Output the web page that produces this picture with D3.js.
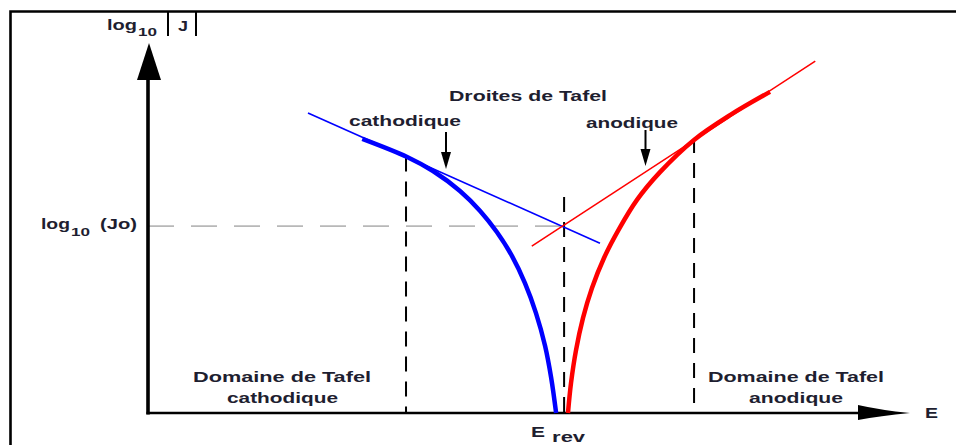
<!DOCTYPE html>
<html>
<head>
<meta charset="utf-8">
<script src="https://cdn.jsdelivr.net/npm/d3@7"></script>
<style>
  html, body { margin: 0; padding: 0; background: #fff; }
  svg { display: block; }
  text { font-family: "Liberation Sans", Arial, sans-serif; font-weight: bold; fill: #1e1e30; }
</style>
</head>
<body>
<svg id="chart" width="956" height="445"></svg>
<script>
// ---- data (arbitrary units: E on 0..100, log10|J| on 0..100) ----
const cathodicCurveE = [28.2, 34.1, 37.5, 41.05, 43.7, 45.9, 47.9, 49.6, 51.05, 52.25, 53.05, 53.7];
const cathodicCurveLogJ = [74.1, 69.2, 65.4, 60.0, 54.6, 48.9, 42.4, 35.1, 27.0, 18.1, 9.5, 0];
const anodicCurveE = [55.26, 55.66, 56.32, 57.24, 58.42, 60.0, 61.97, 64.34, 67.37, 71.84, 76.58, 81.84];
const anodicCurveLogJ = [0, 8.1, 17.0, 25.7, 33.8, 41.9, 49.7, 57.6, 65.1, 73.8, 80.5, 86.8];
const cathodicTafelE = [21.05, 59.47];
const cathodicTafelLogJ = [81.1, 45.9];
const anodicTafelE = [50.5, 87.8];
const anodicTafelLogJ = [45.1, 95.1];
const logJ0 = 50.5;
const Erev = 54.75;
const tafelLimitsE = [33.95, 54.75, 71.85];
const tafelLimitsTopLogJ = [69.3, 58.4, 74.3];
const categoriesLabels = ["Domaine de Tafel", "cathodique", "anodique", "Droites de Tafel"];

// ---- scales ----
const x = d3.scaleLinear().domain([0, 100]).range([148, 908]);
const y = d3.scaleLinear().domain([0, 100]).range([413, 43]);

const svg = d3.select("#chart");

// frame
svg.append("path")
  .attr("d", "M10.5,460 L10.5,11.5 L970,11.5")
  .attr("fill", "none").attr("stroke", "#000").attr("stroke-width", 2.6);

// gray dashed log J0 line
svg.append("line")
  .attr("x1", x(0)).attr("x2", x(Erev) - 4)
  .attr("y1", y(logJ0)).attr("y2", y(logJ0))
  .attr("stroke", "#b8b8b8").attr("stroke-width", 1.6)
  .attr("stroke-dasharray", "26,17");

// vertical dashed limits
svg.selectAll("line.lim").data(tafelLimitsE).join("line")
  .attr("class", "lim")
  .attr("x1", d => x(d)).attr("x2", d => x(d))
  .attr("y1", (d, i) => y(tafelLimitsTopLogJ[i])).attr("y2", y(0))
  .attr("stroke", "#000").attr("stroke-width", 2)
  .attr("stroke-dasharray", "15,10");

// axes (drawn as lines with arrows)
svg.append("line")
  .attr("x1", x(0)).attr("x2", x(0)).attr("y1", y(0) + 1.5).attr("y2", 78)
  .attr("stroke", "#000").attr("stroke-width", 3.6);
svg.append("path")
  .attr("d", `M${x(0) + 1},43 L${x(0) - 11},80 L${x(0) + 13},80 Z`)
  .attr("fill", "#000");
svg.append("line")
  .attr("x1", x(0) - 1.5).attr("x2", 862).attr("y1", y(0)).attr("y2", y(0))
  .attr("stroke", "#000").attr("stroke-width", 2.6);
svg.append("path")
  .attr("d", `M910,${y(0)} Q880,${y(0) - 3} 858,${y(0) - 8} L858,${y(0) + 7} Q880,${y(0) + 3} 910,${y(0)} Z`)
  .attr("fill", "#000");

// Tafel lines
const line = d3.line().x(d => x(d[0])).y(d => y(d[1]));
svg.append("path")
  .attr("d", line(d3.zip(cathodicTafelE, cathodicTafelLogJ)))
  .attr("stroke", "#0000ff").attr("stroke-width", 1.6).attr("fill", "none");
svg.append("path")
  .attr("d", line(d3.zip(anodicTafelE, anodicTafelLogJ)))
  .attr("stroke", "#ff0000").attr("stroke-width", 1.6).attr("fill", "none");

// curves
const curve = d3.line().x(d => x(d[0])).y(d => y(d[1])).curve(d3.curveCatmullRom.alpha(0.5));
svg.append("path")
  .attr("d", curve(d3.zip(cathodicCurveE, cathodicCurveLogJ)))
  .attr("stroke", "#0000ff").attr("stroke-width", 4.5).attr("fill", "none");
svg.append("path")
  .attr("d", curve(d3.zip(anodicCurveE, anodicCurveLogJ)))
  .attr("stroke", "#ff0000").attr("stroke-width", 4.5).attr("fill", "none");

// small arrows pointing to Tafel lines
function downArrow(cx, y1, y2) {
  svg.append("line").attr("x1", cx).attr("x2", cx).attr("y1", y1).attr("y2", y2 - 12)
    .attr("stroke", "#000").attr("stroke-width", 2);
  svg.append("path").attr("d", `M${cx - 5},${y2 - 17} L${cx + 5},${y2 - 17} L${cx},${y2} Z`).attr("fill", "#000");
}
downArrow(446, 132, 169);
downArrow(645.5, 130, 166);

// text helper
function txt(s, tx, ty, size, w) {
  const t = svg.append("text").attr("x", tx).attr("y", ty)
    .attr("font-size", size).text(s);
  if (w) t.attr("textLength", w).attr("lengthAdjust", "spacingAndGlyphs");
  return t;
}

// y axis title: log10 |J|
txt("log", 107, 30, 15, 30);
txt("10", 138, 35.5, 11, 19);
txt("J", 178, 31, 15, 10);
[168, 196].forEach(bx => svg.append("line")
  .attr("x1", bx).attr("x2", bx).attr("y1", 12).attr("y2", 36)
  .attr("stroke", "#000").attr("stroke-width", 2));

// log10 (Jo) label
const yJ0 = y(logJ0);
txt("log", 41, yJ0 + 3, 15, 29);
txt("10", 71, yJ0 + 10, 11, 19);
txt("(Jo)", 100, yJ0 + 3, 15, 37);

// annotations
txt(categoriesLabels[3], 449, 101, 15, 158);
txt(categoriesLabels[1], 349, 126, 15, 112);
txt(categoriesLabels[2], 586, 128, 15, 92);
txt(categoriesLabels[0], 193, 382, 15, 178);
txt(categoriesLabels[1], 227, 403, 15, 111);
txt(categoriesLabels[0], 708, 382, 15, 176);
txt(categoriesLabels[2], 749, 403, 15, 94);

// axis labels
txt("E", 925, 418, 15, 13);
txt("E", x(Erev) - 33, 437, 15, 14);
txt("rev", x(Erev) - 12, 442, 15, 33);
</script>
</body>
</html>
